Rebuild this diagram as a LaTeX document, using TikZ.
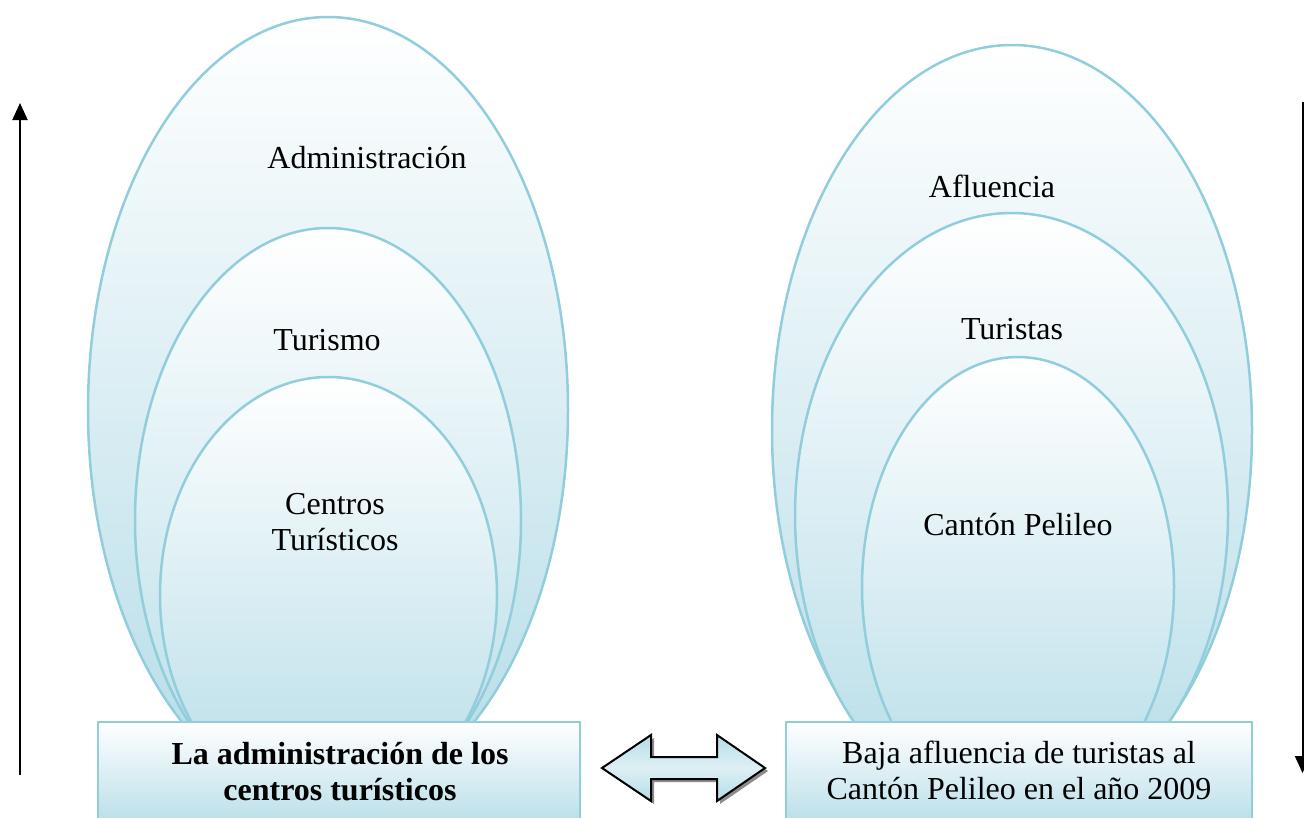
\documentclass[tikz,border=0pt]{standalone}
\usepackage{fontspec}
\setmainfont{Liberation Serif}
\usetikzlibrary{shapes.geometric,arrows.meta}
\definecolor{edgeblue}{RGB}{146,205,220}
\definecolor{fillblue}{RGB}{180,220,231}
\definecolor{arrowmid}{RGB}{222,240,245}
\begin{document}
\begin{tikzpicture}[x=1pt,y=-1pt,
  oval/.style={ellipse, inner sep=0pt, draw=edgeblue, line width=2.5pt, top color=white, bottom color=fillblue},
  lbl/.style={font=\fontsize{32}{36}\selectfont, align=center, inner sep=0pt},
  basebox/.style={rectangle, draw=edgeblue, line width=2.5pt, top color=white, bottom color=fillblue, inner sep=0pt},
  vline/.style={line width=2pt, -{Triangle[length=17pt,width=15pt]}}
]
\useasboundingbox (0,0) rectangle (1304,817);
% left ellipses
\node[oval, minimum width=480pt, minimum height=786pt] (LO) at (328,410) {};
\node[oval, minimum width=386pt, minimum height=584pt] (LM) at (328,520) {};
\node[oval, minimum width=337pt, minimum height=436pt] (LI) at (328.5,595) {};
% right ellipses
\node[oval, minimum width=480pt, minimum height=770pt] (RO) at (1012,430) {};
\node[oval, minimum width=433pt, minimum height=604pt] (RM) at (1011.5,515) {};
\node[oval, minimum width=312pt, minimum height=460pt] (RI) at (1018,587) {};
% labels
\node[lbl] (tAdm) at (367,158) {Administración};
\node[lbl] (tTur) at (327,340) {Turismo};
\node[lbl] (tCen) at (335,522) {Centros\\Turísticos};
\node[lbl] (tAfl) at (992,186) {Afluencia};
\node[lbl] (tTus) at (1012,329) {Turistas};
\node[lbl] (tCan) at (1018,525) {Cantón Pelileo};
% base boxes
\node[basebox, minimum width=482pt, minimum height=110pt] (LB) at (339,777) {};
\node[basebox, minimum width=466pt, minimum height=110pt] (RB) at (1019,777) {};
\node[lbl, font=\fontsize{32}{36}\selectfont\bfseries] (tLB) at (340,772) {La administración de los\\centros turísticos};
\node[lbl] (tRB) at (1019,770) {Baja afluencia de turistas al\\Cantón Pelileo en el año 2009};
% double arrow
\fill[black!45, shift={(3,3)}] (602,768) -- (651,735) -- (651,757) -- (717,757) -- (717,735) -- (765,768) -- (717,801) -- (717,779) -- (651,779) -- (651,801) -- cycle;
\draw[line width=2pt, line join=miter, top color=fillblue, bottom color=fillblue, middle color=arrowmid]
  (602,768) -- (651,735) -- (651,757) -- (717,757) -- (717,735) -- (765,768) -- (717,801) -- (717,779) -- (651,779) -- (651,801) -- cycle;
% side arrows
\coordinate (la1) at (20,775);
\coordinate (la2) at (20,103);
\draw[vline] (la1) -- (la2);
\coordinate (ra1) at (1302.5,102);
\coordinate (ra2) at (1302.5,773);
\draw[vline] (ra1) -- (ra2);
\end{tikzpicture}
\end{document}
